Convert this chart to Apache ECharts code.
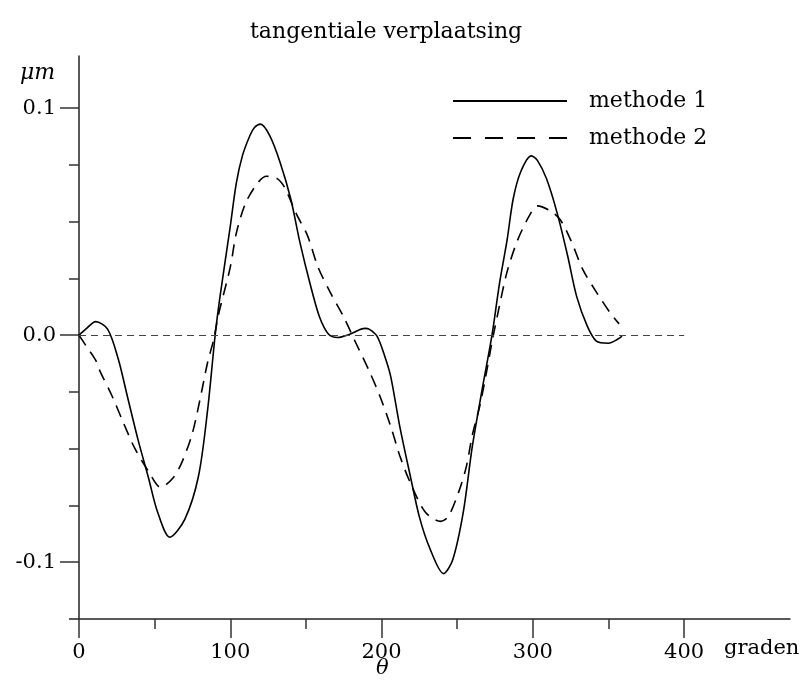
<!DOCTYPE html>
<html>
<head>
<meta charset="utf-8">
<script src="https://cdn.jsdelivr.net/npm/echarts@6/dist/echarts.min.js"></script>
<style>html,body{margin:0;padding:0;background:#fff}#c{width:805px;height:693px}</style>
</head>
<body>
<div id="c"></div>
<script>
const titleText = 'tangentiale verplaatsing';
const seriesNames = ['methode 1', 'methode 2'];
const xTickValues = [0, 100, 200, 300, 400];
const xMinorTicks = [50, 150, 250, 350];
const yTickValues = [-0.1, 0, 0.1];
const yMinorTicks = [-0.075, -0.05, -0.025, 0.025, 0.05, 0.075];
const zeroLineX = [0, 400];

const m1Deg = [0, 5, 11, 19, 26, 32, 39, 46, 52, 60, 70, 79, 85, 90, 93, 100, 104, 108, 113, 116, 120, 126, 133, 140, 146, 153, 159, 165, 171, 179, 189, 192, 197, 202, 206, 212, 219, 225, 232, 241, 247, 254, 260, 267, 273, 278, 283, 287, 292, 299, 303, 309, 316, 323, 329, 336, 342, 350, 356, 359];
const m1Val = [0, 0.003, 0.006, 0.0026, -0.0106, -0.027, -0.046, -0.063, -0.078, -0.089, -0.081, -0.062, -0.033, 0, 0.016, 0.048, 0.067, 0.079, 0.088, 0.0915, 0.093, 0.088, 0.076, 0.060, 0.041, 0.022, 0.008, 0.0004, -0.001, 0.0004, 0.003, 0.0026, -0.0004, -0.009, -0.018, -0.040, -0.062, -0.080, -0.094, -0.105, -0.099, -0.078, -0.049, -0.022, 0, 0.023, 0.042, 0.060, 0.072, 0.079, 0.077, 0.069, 0.054, 0.035, 0.017, 0.004, -0.0026, -0.0035, -0.0018, -0.0004];

const m2Deg = [0, 5, 11, 14, 22, 29, 37, 46, 54, 62, 68, 75, 81, 85, 89, 92, 100, 104, 110, 118, 124, 131, 136, 144, 151, 158, 166, 175, 182, 192, 199, 206, 212, 219, 229, 239, 244, 251, 256, 260, 265, 270, 273, 277, 283, 290, 298, 303, 311, 318, 325, 333, 342, 351, 357];
const m2Val = [0, -0.005, -0.011, -0.016, -0.027, -0.038, -0.050, -0.060, -0.067, -0.063, -0.056, -0.043, -0.025, -0.012, -0.002, 0.0085, 0.030, 0.045, 0.058, 0.067, 0.070, 0.069, 0.065, 0.053, 0.044, 0.030, 0.019, 0.008, -0.002, -0.016, -0.027, -0.040, -0.053, -0.065, -0.078, -0.082, -0.080, -0.069, -0.058, -0.044, -0.031, -0.014, -0.003, 0.010, 0.028, 0.042, 0.053, 0.057, 0.055, 0.051, 0.042, 0.029, 0.019, 0.010, 0.005];

const FONT = 'DejaVu Serif';
const pair = (xs, ys) => xs.map((x, i) => [x, ys[i]]);

const chart = echarts.init(document.getElementById('c'), null, {renderer: 'canvas'});
const gridL = 79, gridT = 56, gridW = 711, gridH = 563;

chart.setOption({
  animation: false,
  backgroundColor: '#fff',
  title: {
    text: titleText, left: 245, top: 16,
    textStyle: {fontFamily: FONT, fontSize: 22, fontWeight: 'normal', color: '#000'}
  },
  legend: {
    show: true,
    orient: 'vertical', left: 447, top: 85,
    itemWidth: 114, itemHeight: 14, itemGap: 15,
    itemStyle: {opacity: 0},
    textStyle: {fontFamily: FONT, fontSize: 22, color: '#000', padding: [0, 0, 0, 17]},
    data: [
      {name: seriesNames[0]},
      {name: seriesNames[1], lineStyle: {type: [18, 14]}}
    ]
  },
  grid: {left: gridL, top: gridT, width: gridW, height: gridH},
  xAxis: [{
    type: 'value', min: 0, max: 470,
    splitLine: {show: false},
    axisLine: {show: true, onZero: false, lineStyle: {color: '#222', width: 1.5}},
    axisTick: {show: true, inside: false, customValues: xTickValues, length: 19, lineStyle: {color: '#333', width: 1.5}},
    axisLabel: {show: true, customValues: xTickValues, margin: 23, fontFamily: FONT, fontSize: 21, color: '#000'}
  }, {
    type: 'value', min: 0, max: 470, position: 'bottom',
    splitLine: {show: false},
    axisLine: {show: false, onZero: false},
    axisTick: {show: true, inside: false, customValues: xMinorTicks, length: 10, lineStyle: {color: '#333', width: 1.5}},
    axisLabel: {show: false}
  }],
  yAxis: [{
    type: 'value', min: -0.125, max: 0.123,
    splitLine: {show: false},
    axisLine: {show: true, onZero: false, lineStyle: {color: '#222', width: 1.5}},
    axisTick: {show: true, customValues: yTickValues, length: 19, lineStyle: {color: '#333', width: 1.5}},
    axisLabel: {show: true, customValues: yTickValues, margin: 23, fontFamily: FONT, fontSize: 21, color: '#000',
      formatter: v => v.toFixed(1)}
  }, {
    type: 'value', min: -0.125, max: 0.123, position: 'left', offset: 0,
    splitLine: {show: false},
    axisLine: {show: false, onZero: false},
    axisTick: {show: true, customValues: yMinorTicks, length: 10, lineStyle: {color: '#333', width: 1.5}},
    axisLabel: {show: false}
  }],
  graphic: [
    {type: 'line', shape: {x1: 69, y1: gridT + gridH, x2: gridL, y2: gridT + gridH}, style: {stroke: '#222', lineWidth: 1.5}},
    {type: 'text', left: 20, top: 62, style: {text: 'μm', font: 'italic 22px "DejaVu Serif"', fill: '#000'}},
    {type: 'text', left: 376, top: 658, style: {text: 'θ', font: 'italic 21px "DejaVu Serif"', fill: '#000'}},
    {type: 'text', left: 724, top: 638, style: {text: 'graden', font: '21px "DejaVu Serif"', fill: '#000'}}
  ],
  series: [
    {
      name: seriesNames[0], type: 'line', data: pair(m1Deg, m1Val), smooth: 0.3,
      symbol: 'none', lineStyle: {color: '#000', width: 1.6, type: 'solid'}, itemStyle: {color: '#000'},
      markLine: {
        silent: true, symbol: 'none', label: {show: false},
        lineStyle: {color: '#444', width: 1.2, type: [7, 5]},
        data: [[{coord: [zeroLineX[0], 0]}, {coord: [zeroLineX[1], 0]}]]
      }
    },
    {
      name: seriesNames[1], type: 'line', data: pair(m2Deg, m2Val), smooth: 0.3,
      symbol: 'none', lineStyle: {color: '#000', width: 1.6, type: [12, 8]}, itemStyle: {color: '#000'}
    }
  ]
});
</script>
</body>
</html>
